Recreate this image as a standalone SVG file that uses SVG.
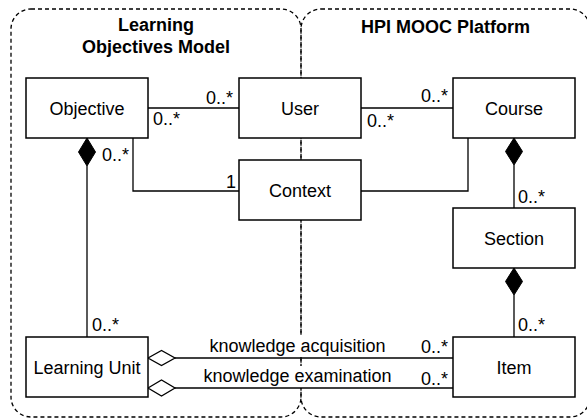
<svg xmlns="http://www.w3.org/2000/svg" width="587" height="420" viewBox="0 0 587 420">
  <style>
    .frame { fill: none; stroke: #000; stroke-width: 1.3; stroke-dasharray: 4 3; }
    .box { fill: #fff; stroke: #000; stroke-width: 1.5; }
    .edge { fill: none; stroke: #000; stroke-width: 1.3; }
    .comp { fill: #000; stroke: #000; stroke-width: 1; }
    .agg { fill: #fff; stroke: #000; stroke-width: 1.3; }
    .bg { fill: #fff; }
    text { font-family: "Liberation Sans", Arial, Helvetica, sans-serif; font-size: 18px; fill: #000; }
    .name { text-anchor: middle; }
    .title { font-weight: bold; text-anchor: middle; }
    .end { text-anchor: end; }
  </style>

  <rect width="587" height="420" fill="#fff"/>

  <!-- package frames -->
  <g id="pkg-learning-objectives">
    <rect class="frame" x="11" y="9" width="290" height="408" rx="20"/>
    <text class="title" x="156" y="31">Learning</text>
    <text class="title" x="156" y="53">Objectives Model</text>
  </g>
  <g id="pkg-hpi-mooc">
    <rect class="frame" x="301" y="9" width="289" height="408" rx="20"/>
    <text class="title" x="445.5" y="33">HPI MOOC Platform</text>
  </g>

  <!-- associations -->
  <g id="connectors">
    <!-- label backgrounds sit under the lines but over the package frames -->
    <rect class="bg" x="205" y="335" width="185" height="22"/>
    <rect class="bg" x="201" y="366" width="192" height="22"/>

    <path class="edge" d="M148 108 H239"/>
    <path class="edge" d="M361 108 H453"/>
    <path class="edge" d="M133 138 V191 H239"/>
    <path class="edge" d="M361 191 H468 V138"/>

    <path class="edge" d="M87 166 V337"/>
    <polygon class="comp" points="87,138 95.5,152 87,166 78.5,152"/>

    <path class="edge" d="M514 165 V208"/>
    <polygon class="comp" points="514,138 522.5,151.5 514,165 505.5,151.5"/>

    <path class="edge" d="M514 295 V337"/>
    <polygon class="comp" points="514,268 522.5,281.5 514,295 505.5,281.5"/>

    <path class="edge" d="M175 358 H453"/>
    <polygon class="agg" points="148,358 161.5,350.5 175,358 161.5,365.5"/>

    <path class="edge" d="M175 388 H453"/>
    <polygon class="agg" points="148,388 161.5,380 175,388 161.5,396"/>

    <!-- multiplicities -->
    <text class="end" x="233" y="104">0..*</text>
    <text x="153" y="125">0..*</text>
    <text class="end" x="448" y="102">0..*</text>
    <text x="367" y="127">0..*</text>
    <text x="102" y="160.5">0..*</text>
    <text class="end" x="236" y="188">1</text>
    <text x="92" y="330.5">0..*</text>
    <text x="518" y="203">0..*</text>
    <text x="518" y="330.5">0..*</text>
    <text class="end" x="448" y="353">0..*</text>
    <text class="end" x="448" y="385">0..*</text>

    <!-- role labels -->
    <text class="name" x="297.5" y="352">knowledge acquisition</text>
    <text class="name" x="297.5" y="382">knowledge examination</text>
  </g>

  <!-- classes -->
  <g id="objective">
    <rect class="box" x="26" y="78" width="122" height="60"/>
    <text class="name" x="87" y="114.5">Objective</text>
  </g>
  <g id="user">
    <rect class="box" x="239" y="78" width="122" height="60"/>
    <text class="name" x="300" y="114.5">User</text>
  </g>
  <g id="course">
    <rect class="box" x="453" y="78" width="122" height="60"/>
    <text class="name" x="514" y="114.5">Course</text>
  </g>
  <g id="context">
    <rect class="box" x="239" y="160" width="122" height="60"/>
    <text class="name" x="300" y="196.5">Context</text>
  </g>
  <g id="section">
    <rect class="box" x="453" y="208" width="122" height="60"/>
    <text class="name" x="514" y="244.5">Section</text>
  </g>
  <g id="learning-unit">
    <rect class="box" x="26" y="337" width="122" height="60"/>
    <text class="name" x="87" y="374">Learning Unit</text>
  </g>
  <g id="item">
    <rect class="box" x="453" y="337" width="122" height="60"/>
    <text class="name" x="514" y="374">Item</text>
  </g>
</svg>
